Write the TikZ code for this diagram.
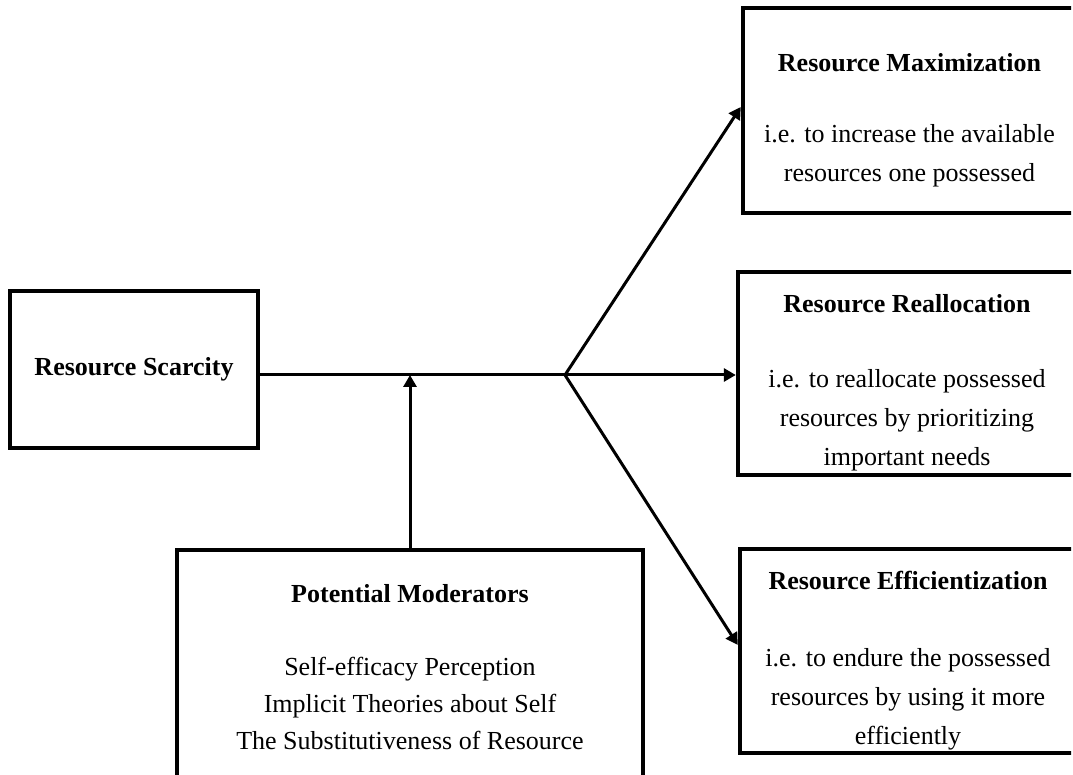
\documentclass[tikz,border=0pt]{standalone}
\usepackage{fontspec}
\setmainfont{Liberation Serif}
\usetikzlibrary{arrows.meta}

\begin{document}
\begin{tikzpicture}[
    x=0.5pt, y=-0.5pt,
    box/.style={draw,line width=2.2pt,align=center,inner sep=0pt,
      font=\fontsize{13}{19.5}\selectfont},
    link/.style={line width=1.5pt,-{Triangle[length=6pt,width=6.5pt]}},
  ]
  \useasboundingbox (0,0) rectangle (1073,775);
  \clip (0,0) rectangle (1071,775);
  % Left box
  \node[box,minimum width=124pt,minimum height=78.5pt] (scarcity) at (134,369.5)
    {\textbf{Resource Scarcity}};
  % Outcome boxes
  \node[box,minimum width=166.5pt,minimum height=102.5pt] (maximize) at (909.5,110.5)
    {\rule{0pt}{19pt}\textbf{Resource Maximization}\\[16pt]
     i.e. to increase the available\\ resources one possessed};
  \node[box,minimum width=169pt,minimum height=101.5pt] (realloc) at (907,373.5)
    {\rule{0pt}{18pt}\textbf{Resource Reallocation}\\[18pt]
     i.e. to reallocate possessed\\ resources by prioritizing\\ important needs};
  \node[box,minimum width=168pt,minimum height=102pt] (efficient) at (908,651)
    {\rule{0pt}{19pt}\textbf{Resource Efficientization}\\[19pt]
     i.e. to endure the possessed\\ resources by using it more\\ efficiently};
  % Moderators box
  \node[box,minimum width=233pt,minimum height=117.5pt,
      font=\fontsize{13}{18.5}\selectfont] (moderators) at (410,667.5)
    {\textbf{Potential Moderators}\\[18pt]
     Self-efficacy Perception\\ Implicit Theories about Self\\
     The Substitutiveness of Resource};
  % Connectors
  \coordinate (fork) at (565,375);
  \draw[line width=1.5pt] (scarcity.east |- fork) -- (fork);
  \draw[link] (fork) -- ([yshift=1.75pt]maximize.west);
  \draw[link] (fork) -- (realloc.west |- fork);
  \draw[link] (fork) -- ([yshift=3pt]efficient.west);
  \draw[link] (moderators.north) -- (moderators.north |- fork);
\end{tikzpicture}
\end{document}
